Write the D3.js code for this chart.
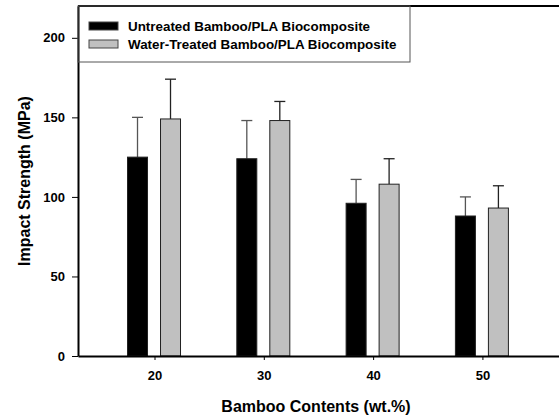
<!DOCTYPE html>
<html>
<head>
<meta charset="utf-8">
<script src="https://cdn.jsdelivr.net/npm/d3@7"></script>
<style>
  body { margin: 0; background: #fff; }
  text { font-family: "Liberation Sans", Arial, sans-serif; font-weight: bold; }
</style>
</head>
<body>
<div id="chart"></div>
<script>
// data
var contents = [20, 30, 40, 50];
var seriesNames = ["Untreated Bamboo/PLA Biocomposite", "Water-Treated Bamboo/PLA Biocomposite"];
var untreated = [125, 124, 96, 88];
var untreatedErr = [25, 24, 15, 12];
var treated = [149, 148, 108, 93];
var treatedErr = [25, 12, 16, 14];
var yTicks = [0, 50, 100, 150, 200];

var width = 559;
var height = 417;
var marginTop = 6;
var marginLeft = 78;
var marginBottom = 61;

var svg = d3.select("#chart").append("svg")
    .attr("width", width)
    .attr("height", height);

// y scale
var y = d3.scaleLinear()
    .domain([0, 220])
    .range([height - marginBottom, marginTop]);

// x scale (plot continues past the right edge of the picture)
var x = d3.scaleLinear()
    .domain([13, 60])
    .range([marginLeft, marginLeft + 47 * 10.93]);

var barW = 20;
var series = [
    {name: seriesNames[0], values: untreated, err: untreatedErr, fill: "#000", stem: "#555", offset: -17},
    {name: seriesNames[1], values: treated, err: treatedErr, fill: "#c0c0c0", stem: "#222", offset: 16}
];

// error bars (drawn first so the bar sits over the stem)
series.forEach(function(s) {
    var g = svg.append("g");
    contents.forEach(function(c, i) {
        var cx = x(c) + s.offset;
        g.append("line")
            .attr("x1", cx).attr("x2", cx)
            .attr("y1", y(s.values[i])).attr("y2", y(s.values[i] + s.err[i]))
            .attr("stroke", s.stem).attr("stroke-width", 1.3);
        g.append("line")
            .attr("x1", cx - 5.5).attr("x2", cx + 5.5)
            .attr("y1", y(s.values[i] + s.err[i])).attr("y2", y(s.values[i] + s.err[i]))
            .attr("stroke", s.stem).attr("stroke-width", 1.3);
    });
    g.selectAll("rect")
        .data(s.values)
        .join("rect")
        .attr("x", function(d, i) { return x(contents[i]) + s.offset - barW / 2; })
        .attr("y", function(d) { return y(d); })
        .attr("width", barW)
        .attr("height", function(d) { return y(0) - y(d); })
        .attr("fill", s.fill)
        .attr("stroke", "#222")
        .attr("stroke-width", 1);
});

// axes
var gx = svg.append("g")
    .attr("transform", `translate(0,${y(0)})`)
    .call(d3.axisBottom(x).tickValues(contents).tickSize(4).tickPadding(11).tickSizeOuter(0));
gx.select(".domain").attr("stroke-width", 2);
gx.selectAll("text").attr("font-size", 13).attr("fill", "#000");

var gy = svg.append("g")
    .attr("transform", `translate(${marginLeft},0)`)
    .call(d3.axisLeft(y).tickValues(yTicks).tickSize(6).tickPadding(7).tickSizeOuter(0));
gy.select(".domain").attr("stroke-width", 2);
gy.selectAll("text").attr("font-size", 13).attr("fill", "#000");

// top frame line
svg.append("line")
    .attr("x1", marginLeft).attr("x2", width)
    .attr("y1", marginTop).attr("y2", marginTop)
    .attr("stroke", "#000").attr("stroke-width", 2);

// legend
var legend = svg.append("g");
legend.append("rect")
    .attr("x", marginLeft).attr("y", marginTop)
    .attr("width", 332).attr("height", 56)
    .attr("fill", "none").attr("stroke", "#555").attr("stroke-width", 1);
series.forEach(function(s, i) {
    legend.append("rect")
        .attr("x", 89).attr("y", 22 + i * 18)
        .attr("width", 29).attr("height", 8)
        .attr("fill", s.fill).attr("stroke", "#444").attr("stroke-width", 1);
    legend.append("text")
        .attr("x", 128).attr("y", 31 + i * 18)
        .attr("font-size", 13.4)
        .text(s.name);
});

// axis titles
svg.append("text")
    .attr("transform", "translate(30," + y(110) + ") rotate(-90)")
    .attr("text-anchor", "middle")
    .attr("font-size", 16)
    .text("Impact Strength (MPa)");

svg.append("text")
    .attr("x", 316).attr("y", 412)
    .attr("text-anchor", "middle")
    .attr("font-size", 16)
    .text("Bamboo Contents (wt.%)");
</script>
</body>
</html>
